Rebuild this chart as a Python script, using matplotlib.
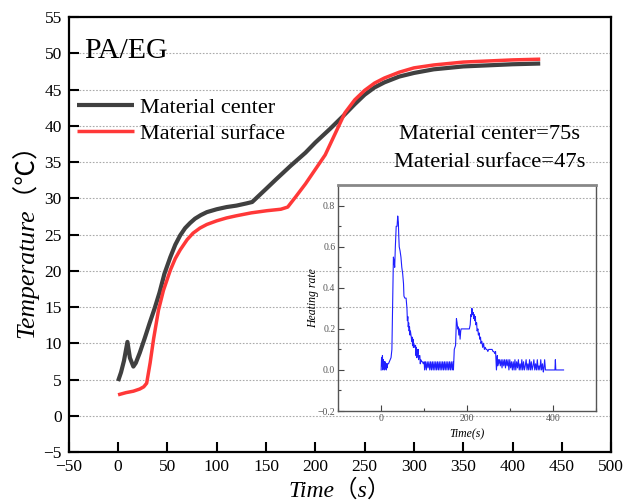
import matplotlib

matplotlib.use("Agg")

import matplotlib.pyplot as plt
from matplotlib.ticker import MultipleLocator

serif = ["Liberation Serif", "Noto Sans CJK SC", "DejaVu Sans"]
plt.rcParams["font.family"] = serif

# main chart: temperature vs time
center_time = [0, 3, 6, 9.5, 12, 15.5, 18, 22, 27, 32, 37, 42, 47, 53, 58, 63,
               68, 73, 78, 84, 90, 100, 110, 120, 130, 136, 150, 160, 175, 190,
               200, 215, 230, 240, 250, 260, 270, 285, 300, 320, 350, 400, 428]
center_temp = [4.8, 6.0, 7.6, 10.2, 8.0, 6.8, 7.3, 8.7, 10.7, 12.8, 14.8, 17.0,
               19.6, 21.9, 23.6, 24.9, 25.9, 26.6, 27.2, 27.7, 28.1, 28.5, 28.8,
               29.0, 29.3, 29.5, 31.3, 32.6, 34.5, 36.3, 37.7, 39.6, 41.6, 43.0,
               44.3, 45.3, 46.0, 46.8, 47.3, 47.8, 48.2, 48.5, 48.6]

surface_time = [0, 8, 15.5, 22, 26, 29, 32.5, 36, 41, 46, 53, 58, 63, 70, 76,
                83, 90, 100, 110, 120, 135, 151, 165, 172, 180, 190, 200, 210,
                220, 230, 240, 250, 260, 270, 285, 300, 320, 350, 400, 428]
surface_temp = [2.9, 3.2, 3.4, 3.7, 4.0, 4.5, 7.3, 10.6, 14.6, 17.3, 20.1, 21.7,
                22.9, 24.3, 25.2, 25.9, 26.4, 26.9, 27.3, 27.6, 28.0, 28.3, 28.5,
                28.8, 30.2, 32.0, 34.0, 36.0, 38.9, 41.8, 43.6, 44.9, 45.9, 46.6,
                47.4, 48.0, 48.4, 48.8, 49.1, 49.2]

# inset: heating rate
rate_time = [0, 1, 2, 3, 4, 5, 6, 7, 8, 9, 10, 11, 12, 13, 14, 15, 17, 19, 21,
             23, 25, 26.5, 28.5, 30, 31.5, 33, 35, 37, 38.5, 40, 41, 42, 44, 46,
             48, 50, 52, 53, 55, 58, 60, 61, 62, 63, 64, 65, 66, 67, 68, 70, 71,
             72, 73, 74, 75, 76, 78, 80, 81, 82, 83, 84, 85, 86, 87, 88, 90, 91,
             92, 94, 96, 98, 100, 101, 103, 105, 107, 109, 111, 113, 115, 117,
             119, 121, 123, 125, 127, 129, 131, 133, 135, 137, 139, 141, 143,
             145, 147, 149, 151, 153, 155, 157, 159, 161, 163, 165, 167, 168,
             170, 173, 175, 176.5, 178, 179, 180.5, 182, 183.5, 185, 186, 188,
             190, 195, 200, 205, 207, 208.5, 210, 211, 212.5, 214, 215, 216,
             217.5, 219, 220, 222, 223, 225, 226, 228, 229, 231, 232, 234, 236,
             238, 240, 242, 244, 246, 248, 250, 252, 254, 256, 258, 260, 262,
             264, 266, 268, 270, 271, 272, 273, 275, 277, 279, 281, 283, 285,
             287, 289, 291, 293, 295, 297, 299, 301, 303, 305, 307, 309, 311,
             313, 315, 317, 319, 321, 323, 325, 327, 329, 331, 333, 335, 337,
             339, 341, 343, 345, 347, 349, 351, 353, 355, 357, 359, 361, 363,
             365, 367, 369, 371, 373, 375, 377, 378, 380, 382, 384, 386, 388,
             390, 392, 394, 396, 398, 400, 403, 404, 405, 406, 424]
rate_value = [0.0, 0.06, 0.02, 0.07, 0.0, 0.05, 0.01, 0.04, 0.0, 0.04, 0.01,
              0.03, 0.0, 0.03, 0.01, 0.03, 0.03, 0.04, 0.05, 0.06, 0.1, 0.3,
              0.55, 0.53, 0.5, 0.6, 0.7, 0.7, 0.75, 0.72, 0.65, 0.6, 0.58, 0.55,
              0.5, 0.47, 0.42, 0.36, 0.35, 0.35, 0.3, 0.24, 0.26, 0.21, 0.23,
              0.19, 0.21, 0.17, 0.19, 0.16, 0.14, 0.16, 0.12, 0.15, 0.11, 0.13,
              0.11, 0.12, 0.07, 0.11, 0.06, 0.1, 0.08, 0.1, 0.05, 0.07, 0.07,
              0.03, 0.05, 0.04, 0.04, 0.03, 0.04, 0.0, 0.04, 0.0, 0.04, 0.01,
              0.04, 0.0, 0.04, 0.0, 0.04, 0.0, 0.04, 0.0, 0.04, 0.0, 0.04, 0.0,
              0.04, 0.0, 0.04, 0.0, 0.04, 0.0, 0.04, 0.0, 0.04, 0.0, 0.04, 0.0,
              0.04, 0.0, 0.04, 0.0, 0.04, 0.0, 0.1, 0.12, 0.25, 0.23, 0.2, 0.21,
              0.17, 0.2, 0.15, 0.19, 0.2, 0.2, 0.2, 0.2, 0.2, 0.2, 0.22, 0.27,
              0.26, 0.3, 0.27, 0.28, 0.25, 0.27, 0.24, 0.26, 0.22, 0.23, 0.19,
              0.2, 0.17, 0.18, 0.15, 0.16, 0.13, 0.14, 0.11, 0.13, 0.1, 0.11,
              0.1, 0.1, 0.09, 0.1, 0.1, 0.1, 0.1, 0.1, 0.09, 0.09, 0.08, 0.09,
              0.0, 0.07, 0.02, 0.05, 0.03, 0.05, 0.02, 0.05, 0.01, 0.05, 0.02,
              0.05, 0.01, 0.05, 0.02, 0.05, 0.0, 0.05, 0.01, 0.04, 0.0, 0.04,
              0.0, 0.05, 0.0, 0.04, 0.01, 0.05, 0.0, 0.03, 0.0, 0.05, 0.0, 0.04,
              0.0, 0.02, 0.05, 0.0, 0.03, 0.0, 0.05, 0.0, 0.04, 0.0, 0.02, 0.05,
              0.0, 0.03, 0.0, 0.05, 0.0, 0.02, 0.0, 0.05, 0.0, 0.03, -0.01, 0.0,
              0.05, 0.0, 0.0, 0.0, 0.0, 0.0, 0.0, 0.0, 0.0, 0.0, 0.0, 0.0, 0.0,
              0.05, 0.0, 0.0]

fig = plt.figure(figsize=(6.25, 5.04), dpi=100)
ax = fig.add_axes([0.110, 0.103, 0.868, 0.863])

ax.plot(center_time, center_temp, color="#404040", lw=3, label="Material center",
        solid_capstyle="butt")
ax.plot(surface_time, surface_temp, color="#ff3838", lw=2.5, label="Material surface",
        solid_capstyle="butt")

ax.set_xlim(-50, 500)
ax.set_ylim(-5, 55)
ax.xaxis.set_major_locator(MultipleLocator(50))
ax.yaxis.set_major_locator(MultipleLocator(5))
ax.set_xticklabels(["\u221250" if t < 0 else str(int(t)) for t in ax.get_xticks()])
ax.set_yticklabels(["\u22125" if t < 0 else str(int(t)) for t in ax.get_yticks()])
ax.tick_params(direction="in", length=7, width=1.5, labelsize=12.5, pad=5)
for s in ax.spines.values():
    s.set_linewidth(1.6)
ax.grid(axis="y", linestyle=(0, (1.5, 1.5)), color="#aaaaaa", lw=0.8)

ax.set_xlabel("Time\uff08s\uff09", fontsize=17, style="italic", labelpad=3)
ax.set_ylabel("Temperature\uff08\u2103\uff09", fontsize=18.5, style="italic", labelpad=4)

ax.text(0.029, 0.905, "PA/EG", transform=ax.transAxes, fontsize=21.5)

ax.legend(loc="upper left", bbox_to_anchor=(0.016, 0.815), frameon=False,
          fontsize=16, handlelength=2.55, handletextpad=0.25, labelspacing=0.25,
          borderpad=0, borderaxespad=0)

ax.text(0.776, 0.73, "Material center=75s", transform=ax.transAxes,
        fontsize=16.2, ha="center", va="center")
ax.text(0.776, 0.665, "Material surface=47s", transform=ax.transAxes,
        fontsize=16.2, ha="center", va="center")

# inset
ins = fig.add_axes([0.541, 0.1845, 0.413, 0.448])
ins.set_facecolor("none")
ins.plot(rate_time, rate_value, color="#1f1fff", lw=0.8)
ins.set_xlim(-100, 500)
ins.set_ylim(-0.2, 0.9)
ins.xaxis.set_major_locator(MultipleLocator(200))
ins.xaxis.set_minor_locator(MultipleLocator(100))
ins.yaxis.set_major_locator(MultipleLocator(0.2))
ins.yaxis.set_minor_locator(MultipleLocator(0.1))
ins.set_yticks([-0.2, 0.0, 0.2, 0.4, 0.6, 0.8])
ins.set_yticklabels(["\u22120.2", "0.0", "0.2", "0.4", "0.6", "0.8"])
ins.tick_params(which="both", direction="in", labelsize=7, labelcolor="#555555",
                color="#444444", width=0.8, pad=2)
ins.tick_params(which="major", length=4)
ins.tick_params(which="minor", length=2.5)
for name, s in ins.spines.items():
    s.set_color("#555555")
    s.set_linewidth(1.0)
ins.spines["top"].set_color("#888888")
ins.spines["top"].set_linewidth(2)
ins.set_xlabel("Time(s)", fontsize=8.5, style="italic", labelpad=4)
ins.set_ylabel("Heating rate", fontsize=8.5, style="italic", labelpad=-1)

fig.savefig("out.png", dpi=100)
